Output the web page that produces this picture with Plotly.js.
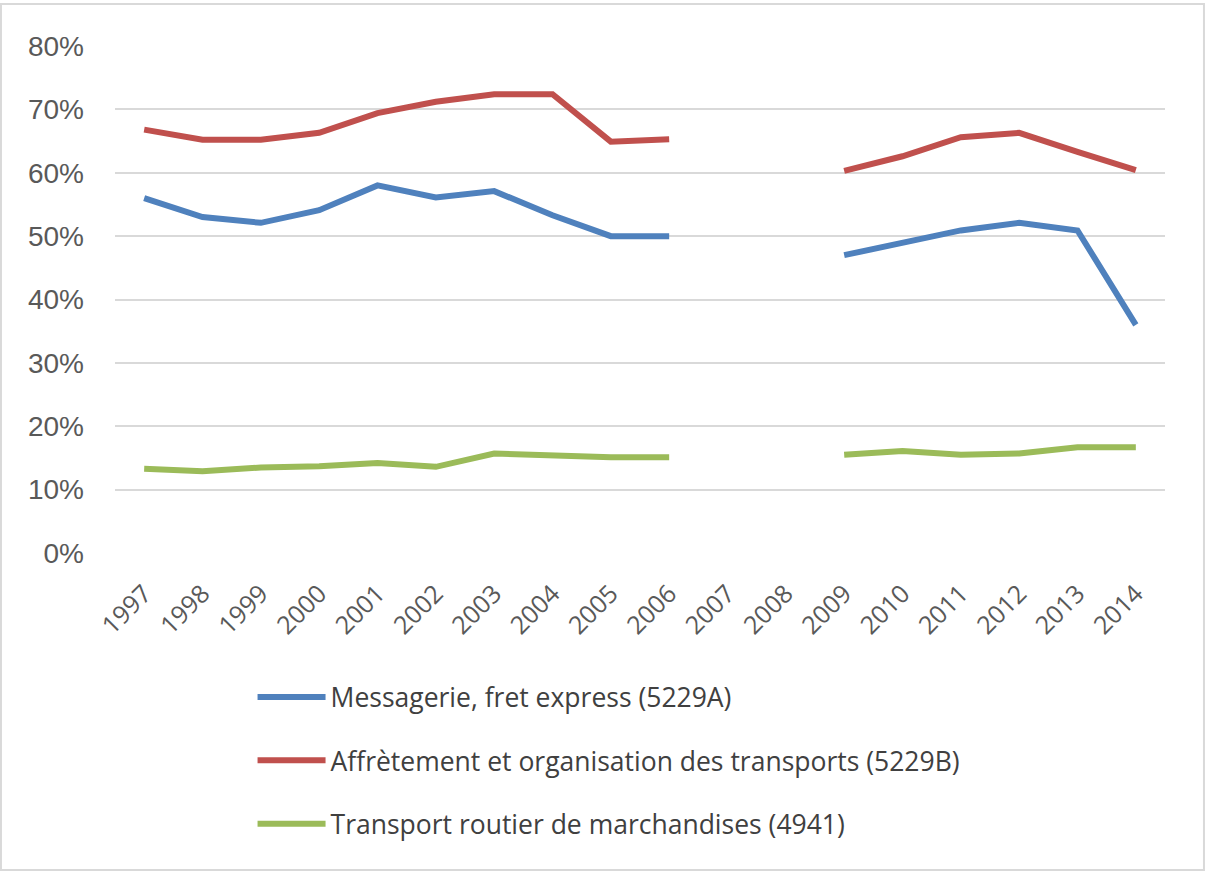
<!DOCTYPE html>
<html><head><meta charset="utf-8">
<script src="https://cdn.plot.ly/plotly-3.0.1.min.js"></script>
<style>html,body{margin:0;padding:0;background:#fff;}#chart{width:1206px;height:874px;}</style>
</head><body><div id="chart"></div>
<script>
const years = ['1997','1998','1999','2000','2001','2002','2003','2004','2005','2006','2007','2008','2009','2010','2011','2012','2013','2014'];
const messagerie = [0.560,0.530,0.521,0.541,0.580,0.561,0.571,0.533,0.500,0.500,null,null,0.470,0.490,0.509,0.521,0.509,0.360];
const affretement = [0.668,0.652,0.652,0.663,0.694,0.712,0.724,0.724,0.649,0.653,null,null,0.603,0.626,0.656,0.663,0.633,0.604];
const routier = [0.133,0.129,0.135,0.137,0.142,0.136,0.157,0.153,0.151,0.151,null,null,0.155,0.161,0.155,0.157,0.167,0.167];
const names = ['Messagerie, fret express (5229A)','Affrètement et organisation des transports (5229B)','Transport routier de marchandises (4941)'];
const colors = ['#4F81BD','#C0504D','#9BBB59'];
const series = [messagerie, affretement, routier];

const traces = series.map((s,i)=>({
  x: years, y: s, name: names[i], type:'scatter', mode:'lines',
  line:{color:colors[i], width:6}, connectgaps:false, legendgroup:'g'+i
}));

const layout = {
  width:1206, height:874,
  margin:{l:115, r:41, t:46, b:321},
  paper_bgcolor:'#fff', plot_bgcolor:'#fff',
  showlegend:true,
  legend:{x:0.131, xanchor:'left', y:-0.237, yanchor:'top', orientation:'v',
    font:{family:'Open Sans, sans-serif', size:26.5, color:'#404040'}, itemwidth:68, tracegroupgap:26,
    bgcolor:'rgba(0,0,0,0)'},
  xaxis:{type:'category', range:[-0.5,17.5], tickangle:-45, showgrid:false, zeroline:false, showline:false,
    ticks:'', ticklabelstandoff:20,
    tickfont:{family:'Open Sans, sans-serif', size:25, color:'#595959'}},
  yaxis:{range:[0,0.8], dtick:0.1, tickformat:'.0%', showgrid:true, gridcolor:'#d9d9d9', gridwidth:2,
    zeroline:false, showline:false, ticks:'', ticklabelstandoff:30,
    tickfont:{family:'Liberation Sans, Arial, sans-serif', size:28, color:'#595959'}},
  shapes:[{type:'rect', xref:'paper', yref:'paper', x0:-0.1086, x1:1.0371, y0:-0.625, y1:1.0828,
    line:{color:'#d9d9d9', width:2}, fillcolor:'rgba(0,0,0,0)', layer:'below'}]
};
Plotly.newPlot('chart', traces, layout, {displayModeBar:false, staticPlot:true});
</script></body></html>
